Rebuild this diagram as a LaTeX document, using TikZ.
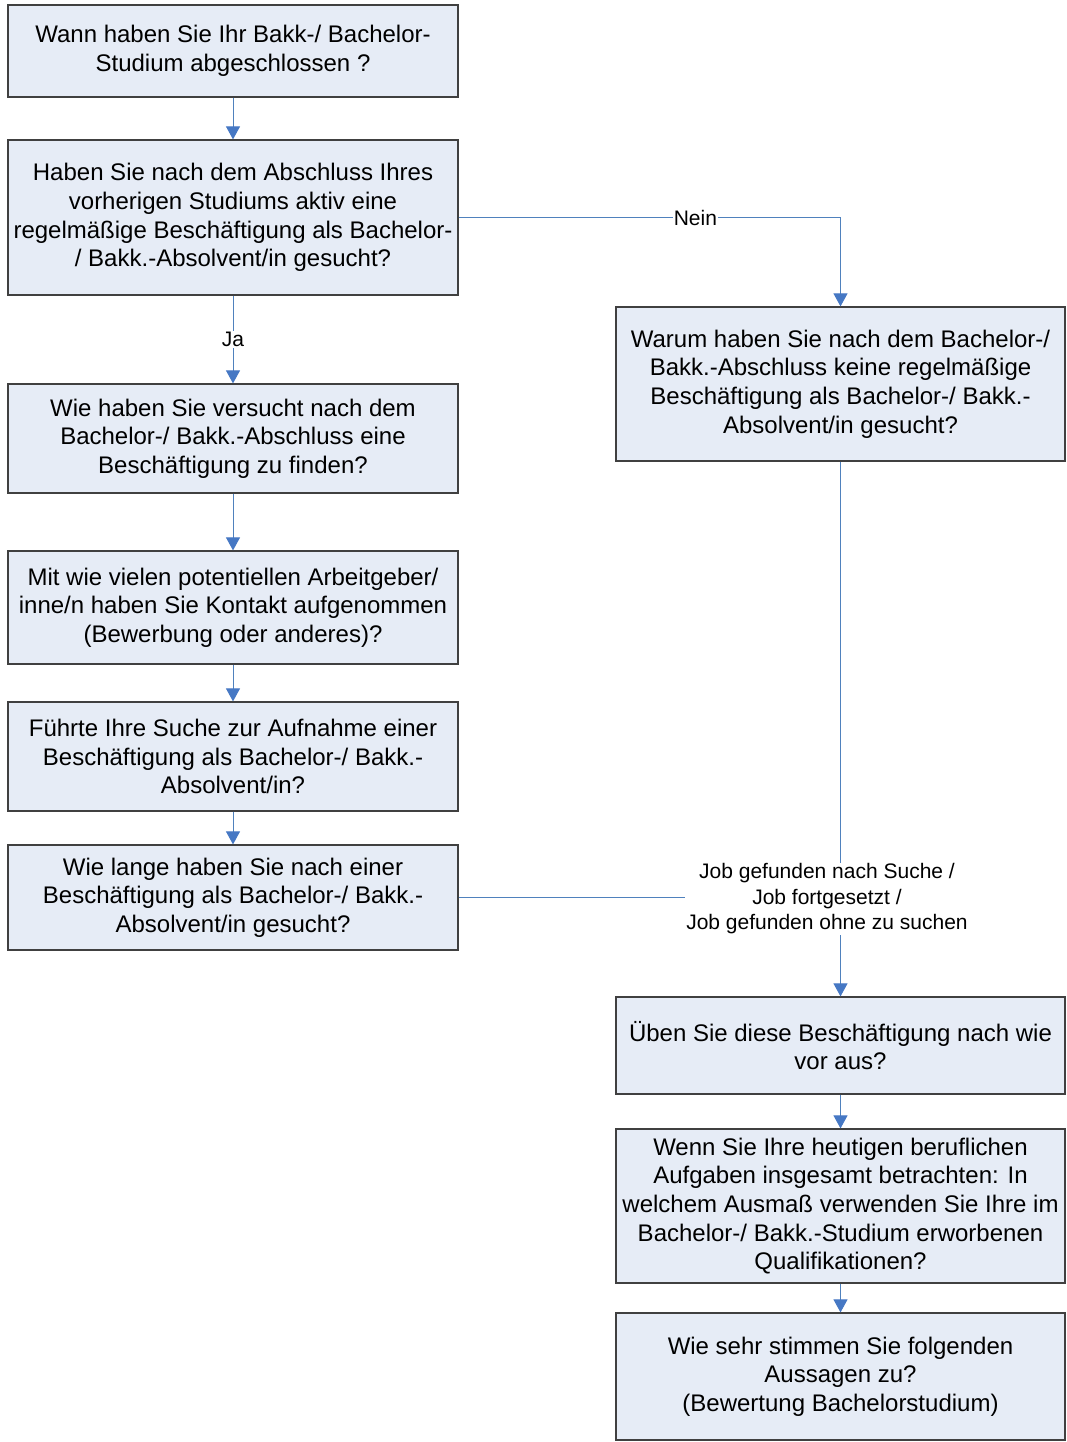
\documentclass[tikz,border=0pt]{standalone}
\usepackage{fontspec}
\setmainfont{Liberation Sans}
\usetikzlibrary{arrows.meta}
\definecolor{boxfill}{RGB}{230,236,246}
\definecolor{linecol}{RGB}{79,129,189}
\definecolor{tipcol}{RGB}{70,120,196}

\begin{document}
\begin{tikzpicture}[x=1pt,y=-1pt,
  box/.style={draw=black!75,line width=1.2pt,fill=boxfill,minimum width=450pt,
    align=center,inner sep=2pt,font=\fontsize{24}{28.7}\selectfont},
  lbl/.style={fill=white,inner sep=1pt,align=center,font=\fontsize{21}{25.5}\selectfont},
  conn/.style={draw=linecol,line width=1pt,-{Triangle[length=13pt,width=14pt,color=tipcol]}},
  plain/.style={draw=linecol,line width=1pt}]
  \useasboundingbox (0,0) rectangle (1067,1442);
  % linke Spalte
  \node[box,minimum height=92pt]  (wann)  at (233,51)    {Wann haben Sie Ihr Bakk-/ Bachelor-\\Studium abgeschlossen ?};
  \node[box,minimum height=155pt] (aktiv) at (233,217.5) {Haben Sie nach dem Abschluss Ihres\\vorherigen Studiums aktiv eine\\regelmäßige Beschäftigung als Bachelor-\\/ Bakk.-Absolvent/in gesucht?};
  \node[box,minimum height=109pt] (wie)   at (233,438.5) {Wie haben Sie versucht nach dem\\Bachelor-/ Bakk.-Abschluss eine\\Beschäftigung zu finden?};
  \node[box,minimum height=113pt] (kontakt) at (233,607.5) {Mit wie vielen potentiellen Arbeitgeber/\\inne/n haben Sie Kontakt aufgenommen\\(Bewerbung oder anderes)?};
  \node[box,minimum height=109pt] (suche) at (233,756.5) {Führte Ihre Suche zur Aufnahme einer\\Beschäftigung als Bachelor-/ Bakk.-\\Absolvent/in?};
  \node[box,minimum height=105pt] (dauer) at (233,897.5) {Wie lange haben Sie nach einer\\Beschäftigung als Bachelor-/ Bakk.-\\Absolvent/in gesucht?};
  % rechte Spalte
  \node[box,minimum width=449pt,minimum height=154pt] (warum) at (840.5,384)    {Warum haben Sie nach dem Bachelor-/\\Bakk.-Abschluss keine regelmäßige\\Beschäftigung als Bachelor-/ Bakk.-\\Absolvent/in gesucht?};
  \node[box,minimum width=449pt,minimum height=97pt]  (ueben) at (840.5,1045.5) {Üben Sie diese Beschäftigung nach wie\\vor aus?};
  \node[box,minimum width=449pt,minimum height=154pt] (quali) at (840.5,1206)   {Wenn Sie Ihre heutigen beruflichen\\Aufgaben insgesamt betrachten: In\\welchem Ausmaß verwenden Sie Ihre im\\Bachelor-/ Bakk.-Studium erworbenen\\Qualifikationen?};
  \node[box,minimum width=449pt,minimum height=127pt] (bewert) at (840.5,1376.5) {Wie sehr stimmen Sie folgenden\\Aussagen zu?\\(Bewertung Bachelorstudium)};

  \draw[conn] (wann) -- (aktiv);
  \draw[conn] (aktiv) -- node[lbl] {Ja} (wie);
  \draw[conn] (aktiv.east) -| node[lbl,pos=0.31] {Nein} (warum.north);
  \draw[conn] (wie) -- (kontakt);
  \draw[conn] (kontakt) -- (suche);
  \draw[conn] (suche) -- (dauer);
  \draw[conn] (warum) -- (ueben);
  \node[lbl] (job) at (827,899) {Job gefunden nach Suche /\\Job fortgesetzt /\\Job gefunden ohne zu suchen};
  \draw[plain] (dauer.east) -- (dauer.east -| job.west);
  \draw[conn] (ueben) -- (quali);
  \draw[conn] (quali) -- (bewert);
\end{tikzpicture}
\end{document}
